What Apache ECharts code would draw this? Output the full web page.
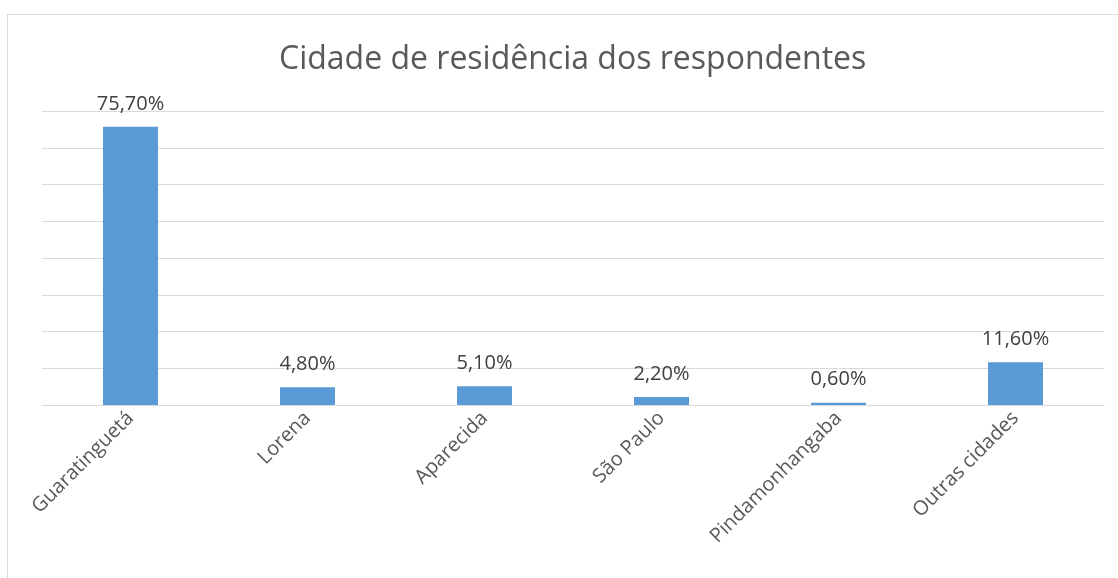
<!DOCTYPE html>
<html>
<head>
<meta charset="utf-8">
<script src="https://cdn.jsdelivr.net/npm/echarts@6/dist/echarts.min.js"></script>
<style>
  html, body { margin: 0; padding: 0; background: #fff; }
  #chart { width: 1118px; height: 578px; }
</style>
</head>
<body>
<div id="chart"></div>
<script>
  const cidades = ['Guaratinguetá', 'Lorena', 'Aparecida', 'São Paulo', 'Pindamonhangaba', 'Outras cidades'];
  const percentuais = [75.7, 4.8, 5.1, 2.2, 0.6, 11.6];

  const fmt = (v) => v.toFixed(2).replace('.', ',') + '%';

  const option = {
    animation: false,
    textStyle: { fontFamily: 'Open Sans' },
    title: {
      text: 'Cidade de residência dos respondentes',
      left: 274,
      top: 39,
      textStyle: { fontSize: 32, fontWeight: 'normal', color: '#595959', fontFamily: 'Open Sans' }
    },
    graphic: [{
      type: 'rect',
      shape: { x: 7.5, y: 14.5, width: 1130, height: 600 },
      style: { fill: 'none', stroke: '#d9d9d9', lineWidth: 1 },
      silent: true
    }],
    grid: { left: 42, right: 14, top: 111, bottom: 173 },
    xAxis: {
      type: 'category',
      data: cidades,
      axisLine: { lineStyle: { color: '#d9d9d9', width: 1 } },
      axisTick: { show: false },
      axisLabel: { rotate: 45, color: '#595959', fontSize: 20, margin: 10, interval: 0 }
    },
    yAxis: {
      type: 'value',
      min: 0,
      max: 80,
      interval: 10,
      axisLabel: { show: false },
      axisLine: { show: false },
      axisTick: { show: false },
      splitLine: { lineStyle: { color: '#d9d9d9', width: 1 } }
    },
    series: [{
      type: 'bar',
      data: percentuais,
      barWidth: 55,
      itemStyle: { color: '#5b9bd5' },
      label: {
        show: true,
        position: 'top',
        distance: 13,
        color: '#404040',
        fontSize: 20,
        formatter: (p) => fmt(p.value)
      }
    }]
  };

  const myChart = echarts.init(document.getElementById('chart'));
  myChart.setOption(option);
</script>
</body>
</html>
